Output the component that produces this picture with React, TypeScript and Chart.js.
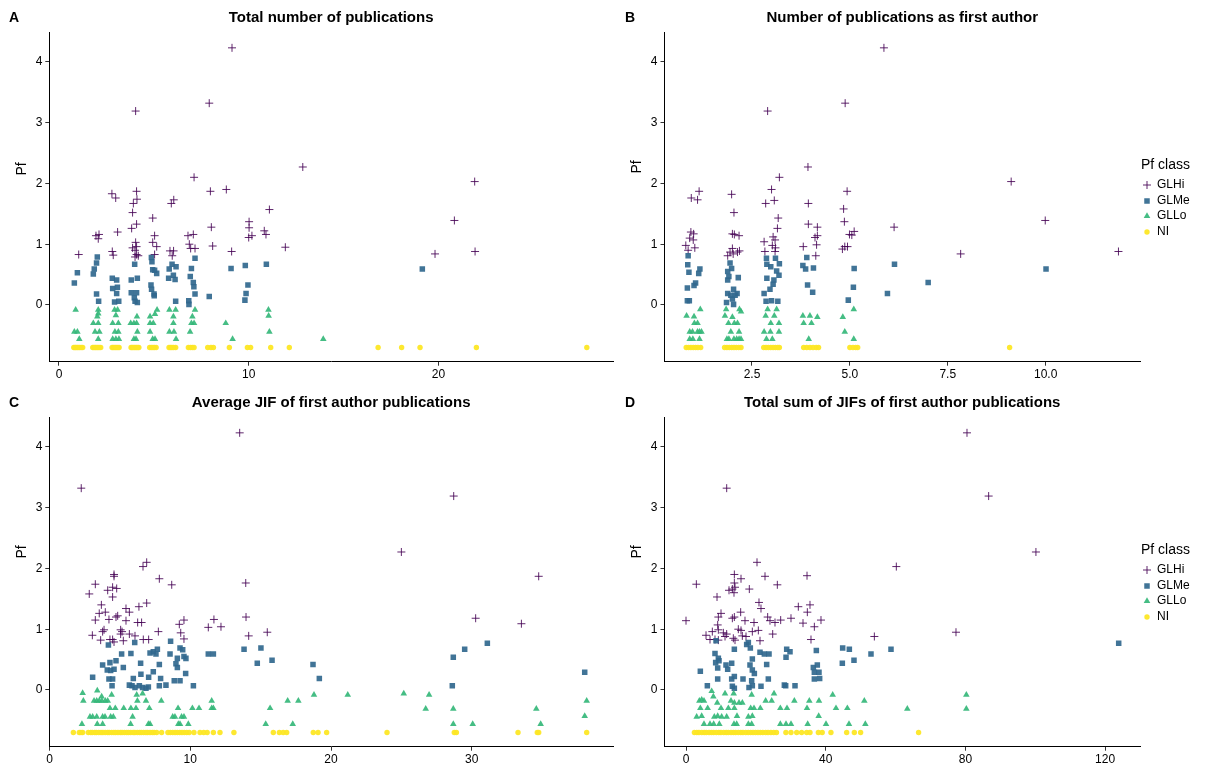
import React, { useEffect, useRef } from 'react';
import { Chart, registerables } from 'chart.js';
Chart.register(...registerables);

const FONT = "'Liberation Sans', Arial, Helvetica, sans-serif";

const PF_TICKS = [0, 1, 2, 3, 4];
const PF_MIN = -0.933;
const PF_MAX = 4.479;
const NI_PF = -0.7;
const CLASSES = ['GLHi', 'GLMe', 'GLLo', 'NI'];
const CLASS_COLORS = ['rgba(68,1,84,0.85)', 'rgba(49,104,142,0.92)', 'rgba(53,183,121,0.92)', 'rgba(253,231,37,0.95)'];

// ---------- Panel A: Total number of publications ----------
const A_X_TICKS = [0, 10, 20];
const A_GLHi: [number, number][] = [
  [9.12, 4.23], [4.04, 3.19], [7.92, 3.32], [7.12, 2.1], [2.79, 1.83], [2.99, 1.76], [4.09, 1.87], [4.11, 1.74], [3.92, 1.67],
  [5.92, 1.67], [6.05, 1.73], [7.98, 1.87], [8.82, 1.9], [12.85, 2.27], [21.91, 2.03], [20.84, 1.39], [19.82, 0.84], [21.93, 0.88],
  [3.88, 1.52], [4.94, 1.43], [11.09, 1.57], [4.09, 1.33], [3.83, 1.26], [1.95, 1.14], [2.11, 1.16], [2.07, 1.09], [3.09, 1.2],
  [5.04, 1.14], [4.94, 1.03], [5.15, 0.96], [6.8, 1.14], [7.08, 1.16], [8.03, 1.28], [8.1, 0.97], [10.02, 1.37], [10.02, 1.27],
  [10.0, 1.11], [10.17, 1.14], [10.82, 1.22], [10.91, 1.16], [6.87, 1.0], [6.94, 0.93], [7.17, 0.93], [4.04, 1.03], [3.88, 0.94],
  [4.09, 0.96], [4.01, 0.9], [4.09, 0.83], [4.18, 0.81], [4.01, 0.79], [2.81, 0.88], [2.86, 0.82], [5.85, 0.89], [6.04, 0.89],
  [5.97, 0.81], [5.04, 0.83], [1.04, 0.83], [9.1, 0.88], [11.93, 0.95],
];
const A_GLMe: [number, number][] = [
  [2.02, 0.79], [1.98, 0.69], [1.86, 0.59], [1.81, 0.51], [0.97, 0.53], [0.81, 0.36], [1.98, 0.18], [2.09, 0.06], [2.81, 0.44],
  [3.04, 0.41], [2.83, 0.27], [3.08, 0.29], [3.04, 0.19], [2.93, 0.05], [3.15, 0.06], [3.99, 0.67], [3.81, 0.41], [4.13, 0.44],
  [3.81, 0.2], [4.09, 0.2], [3.97, 0.12], [4.01, 0.06], [4.13, 0.04], [4.87, 0.78], [4.9, 0.71], [4.94, 0.58], [5.04, 0.57],
  [5.15, 0.52], [4.85, 0.33], [4.88, 0.26], [5.01, 0.18], [5.02, 0.15], [5.96, 0.67], [6.17, 0.63], [5.81, 0.59], [6.03, 0.49],
  [5.78, 0.44], [6.12, 0.42], [6.15, 0.06], [7.17, 0.77], [6.98, 0.6], [6.92, 0.47], [7.08, 0.37], [7.11, 0.3], [7.17, 0.18],
  [6.84, 0.07], [6.85, 0.01], [7.92, 0.14], [9.07, 0.6], [9.82, 0.65], [9.96, 0.33], [9.86, 0.19], [9.8, 0.08], [10.93, 0.67],
  [19.15, 0.59],
];
const A_GLLo: [number, number][] = [
  [0.88, -0.08], [2.07, -0.08], [2.93, -0.08], [3.09, -0.08], [5.17, -0.08], [5.82, -0.08], [6.15, -0.08], [7.17, -0.08], [11.04, -0.08],
  [2.07, -0.14], [2.02, -0.19], [3.0, -0.17], [4.11, -0.19], [4.8, -0.19], [5.06, -0.15], [6.03, -0.19], [7.03, -0.19], [11.05, -0.18],
  [1.81, -0.3], [2.07, -0.3], [2.83, -0.3], [3.13, -0.3], [3.78, -0.3], [3.95, -0.3], [4.09, -0.3], [4.8, -0.3], [4.97, -0.3],
  [6.03, -0.3], [6.98, -0.3], [7.12, -0.3], [8.79, -0.3],
  [0.81, -0.44], [0.97, -0.44], [1.9, -0.44], [2.13, -0.44], [2.95, -0.44], [3.13, -0.44], [4.13, -0.44], [4.8, -0.44], [5.82, -0.44],
  [6.06, -0.44], [6.91, -0.44], [11.09, -0.44],
  [1.07, -0.56], [2.07, -0.56], [2.83, -0.56], [3.0, -0.56], [3.16, -0.56], [3.95, -0.56], [4.06, -0.56], [4.94, -0.56], [5.06, -0.56],
  [6.17, -0.56], [9.15, -0.56], [13.93, -0.56],
];
const A_NI_X = [
  0.78, 0.84, 0.9, 0.97, 1.03, 1.1, 1.17, 1.25, 1.78, 1.85, 1.92, 1.98, 2.05, 2.12, 2.2, 2.8, 2.87, 2.95, 3.02, 3.1, 3.17,
  3.8, 3.86, 3.93, 4.0, 4.07, 4.14, 4.21, 4.78, 4.86, 4.95, 5.03, 5.12, 5.8, 5.88, 5.96, 6.05, 6.15, 6.82, 6.92, 7.02, 7.12,
  7.84, 8.01, 8.14, 8.98, 9.93, 10.1, 11.16, 12.14, 16.82, 18.06, 19.03, 22.0, 27.82,
];

// ---------- Panel B: Number of publications as first author ----------
const B_X_TICKS = [2.5, 5, 7.5, 10];
const B_GLHi: [number, number][] = [
  [2.9, 3.19], [4.88, 3.32], [3.93, 2.27], [3.2, 2.1], [0.95, 1.76], [1.11, 1.73], [1.15, 1.87], [1.98, 1.82], [3.0, 1.9],
  [3.07, 1.72], [2.85, 1.67], [3.94, 1.67], [4.93, 1.87], [5.87, 4.23], [9.12, 2.03], [9.99, 1.39], [6.13, 1.28], [7.83, 0.84],
  [11.86, 0.88], [2.04, 1.52], [4.84, 1.58], [3.17, 1.43], [4.86, 1.37], [3.94, 1.33], [4.17, 1.28], [3.15, 1.26], [0.94, 1.2],
  [1.01, 1.17], [0.91, 1.1], [1.0, 1.07], [0.81, 0.98], [0.87, 0.9], [1.04, 0.94], [2.0, 1.17], [2.05, 1.16], [2.17, 1.14],
  [2.0, 0.93], [1.94, 0.87], [1.88, 0.81], [2.18, 0.89], [2.13, 0.87], [2.02, 0.84], [2.81, 1.04], [3.04, 1.12], [3.09, 1.07],
  [3.02, 0.98], [3.1, 0.94], [2.83, 0.88], [3.09, 0.88], [3.81, 0.96], [4.11, 1.11], [4.17, 1.14], [4.15, 0.99], [4.13, 0.81],
  [4.87, 0.96], [4.94, 0.96], [4.81, 0.92], [4.99, 1.16], [5.11, 1.21], [5.05, 1.15],
];
const B_GLMe: [number, number][] = [
  [0.87, 0.81], [0.86, 0.66], [0.89, 0.54], [1.14, 0.52], [1.17, 0.59], [1.06, 0.36], [1.02, 0.32], [0.85, 0.28], [0.85, 0.07],
  [0.9, 0.07], [1.94, 0.69], [1.98, 0.6], [1.88, 0.55], [1.91, 0.47], [1.88, 0.41], [2.15, 0.45], [2.03, 0.26], [1.88, 0.19],
  [1.96, 0.16], [2.07, 0.16], [2.12, 0.19], [2.0, 0.1], [1.85, 0.04], [2.03, 0.01], [2.87, 0.77], [2.88, 0.67], [2.98, 0.63],
  [3.1, 0.77], [3.2, 0.68], [3.13, 0.56], [3.19, 0.49], [3.06, 0.41], [2.88, 0.44], [3.04, 0.34], [2.96, 0.26], [2.81, 0.19],
  [2.86, 0.06], [3.0, 0.07], [3.16, 0.06], [3.9, 0.78], [3.8, 0.65], [3.87, 0.59], [4.07, 0.61], [3.92, 0.33], [4.05, 0.21],
  [5.11, 0.6], [5.09, 0.29], [4.96, 0.08], [6.14, 0.67], [7.0, 0.37], [5.96, 0.19], [10.01, 0.59],
];
const B_GLLo: [number, number][] = [
  [1.18, -0.07], [1.84, -0.07], [2.18, -0.07], [2.9, -0.07], [3.13, -0.07], [5.1, -0.07],
  [0.83, -0.18], [1.02, -0.19], [1.81, -0.18], [2.0, -0.2], [2.22, -0.11], [2.85, -0.18], [3.07, -0.18], [3.8, -0.18], [3.98, -0.18],
  [4.17, -0.2], [4.82, -0.2],
  [1.03, -0.3], [1.11, -0.3], [1.9, -0.3], [2.05, -0.3], [2.13, -0.3], [2.98, -0.3], [3.19, -0.3], [3.82, -0.3], [4.02, -0.3],
  [0.91, -0.44], [0.98, -0.44], [1.11, -0.44], [1.16, -0.44], [1.21, -0.44], [1.96, -0.44], [2.17, -0.44], [2.81, -0.44],
  [2.97, -0.44], [3.19, -0.44], [4.87, -0.44],
  [0.91, -0.56], [0.99, -0.56], [1.16, -0.56], [1.86, -0.56], [1.91, -0.56], [2.04, -0.56], [2.11, -0.56], [2.17, -0.56],
  [2.22, -0.56], [2.87, -0.56], [3.02, -0.56], [3.95, -0.56], [5.1, -0.56],
];
const B_NI_X = [
  0.82, 0.88, 0.94, 1.0, 1.06, 1.12, 1.19, 1.8, 1.86, 1.92, 1.98, 2.04, 2.1, 2.16, 2.22, 2.8, 2.86, 2.92, 2.98, 3.04, 3.1, 3.16,
  3.2, 3.82, 3.9, 3.98, 4.06, 4.14, 4.2, 5.0, 5.08, 5.15, 5.2, 9.08,
];

// ---------- Panel C: Average JIF of first author publications ----------
const C_X_TICKS = [0, 10, 20, 30];
const C_GLHi: [number, number][] = [
  [13.51, 4.23], [2.25, 3.32], [6.9, 2.1], [6.64, 2.03], [4.58, 1.9], [4.58, 1.87], [7.8, 1.83], [3.25, 1.74], [8.68, 1.73],
  [13.94, 1.76], [28.72, 3.19], [25.0, 2.27], [34.76, 1.87], [30.28, 1.18], [33.53, 1.09],
  [2.82, 1.58], [4.13, 1.64], [4.48, 1.69], [4.77, 1.67], [4.48, 1.53], [3.68, 1.4], [3.53, 1.26], [3.96, 1.28], [3.25, 1.15],
  [4.22, 1.16], [4.72, 1.2], [4.84, 1.22], [5.43, 1.34], [5.67, 1.28], [6.35, 1.37], [6.9, 1.43], [5.43, 1.14], [6.26, 1.11],
  [6.54, 1.11], [3.04, 0.9], [3.63, 0.82], [3.77, 0.96], [3.87, 0.99], [4.29, 0.83], [4.48, 0.83], [4.58, 0.79], [5.05, 0.99],
  [5.15, 0.96], [5.05, 0.92], [5.24, 0.81], [5.67, 0.92], [6.07, 0.89], [6.66, 0.83], [7.04, 0.83], [7.73, 0.96], [9.22, 1.08],
  [9.55, 1.15], [9.32, 0.94], [9.55, 0.84], [11.28, 1.03], [11.68, 1.16], [12.18, 1.04], [13.96, 1.2], [14.15, 0.89], [15.47, 0.95],
];
const C_GLMe: [number, number][] = [
  [4.18, 0.74], [6.05, 0.78], [8.6, 0.8], [5.12, 0.59], [5.78, 0.6], [3.77, 0.41], [4.29, 0.45], [4.72, 0.48], [3.06, 0.21],
  [4.1, 0.33], [4.34, 0.32], [4.58, 0.34], [5.24, 0.37], [4.22, 0.18], [4.48, 0.18], [4.44, 0.07], [6.47, 0.44], [6.49, 0.26],
  [5.95, 0.19], [5.67, 0.08], [5.86, 0.07], [6.07, 0.04], [6.38, 0.07], [6.61, 0.04], [6.85, 0.03], [7.02, 0.05], [7.14, 0.61],
  [7.37, 0.63], [7.56, 0.59], [7.66, 0.67], [7.37, 0.3], [7.04, 0.21], [7.8, 0.42], [7.89, 0.19], [7.8, 0.07], [8.27, 0.08],
  [8.56, 0.59], [9.08, 0.52], [9.27, 0.69], [9.46, 0.66], [9.55, 0.55], [9.69, 0.52], [8.98, 0.43], [9.08, 0.37], [8.86, 0.15],
  [9.27, 0.15], [9.67, 0.27], [10.22, 0.07], [11.28, 0.59], [11.64, 0.59], [13.82, 0.67], [14.76, 0.44], [15.02, 0.69], [15.81, 0.49],
  [31.11, 0.77], [29.5, 0.67], [28.69, 0.54], [18.72, 0.42], [19.17, 0.19], [28.62, 0.07], [38.03, 0.29],
];
const C_GLLo: [number, number][] = [
  [2.35, -0.05], [3.39, -0.01], [4.41, -0.08], [6.19, -0.08], [6.61, -0.06],
  [2.4, -0.18], [3.16, -0.18], [3.35, -0.18], [3.53, -0.18], [3.72, -0.18], [3.96, -0.18], [4.13, -0.18], [6.24, -0.18], [6.85, -0.18],
  [7.94, -0.18], [11.52, -0.18], [16.92, -0.18], [17.68, -0.18], [3.7, -0.11],
  [4.29, -0.3], [4.67, -0.3], [5.27, -0.3], [5.78, -0.3], [6.14, -0.3], [7.09, -0.3], [9.13, -0.3], [10.15, -0.3], [10.62, -0.3],
  [11.52, -0.3], [11.64, -0.3], [15.67, -0.3],
  [2.87, -0.44], [3.06, -0.44], [3.35, -0.44], [3.77, -0.44], [3.94, -0.44], [4.34, -0.44], [4.53, -0.44], [5.9, -0.44], [8.75, -0.44],
  [8.91, -0.44], [9.38, -0.44], [9.55, -0.44],
  [2.3, -0.56], [3.39, -0.56], [3.77, -0.56], [5.76, -0.56], [7.02, -0.56], [7.14, -0.56], [9.15, -0.56], [9.27, -0.56], [9.86, -0.56],
  [15.36, -0.56], [17.28, -0.56],
  [18.79, -0.08], [21.19, -0.08], [25.17, -0.06], [26.97, -0.08], [26.73, -0.31], [28.69, -0.31], [34.59, -0.31], [38.17, -0.18],
  [38.03, -0.43], [28.69, -0.56], [30.07, -0.56], [34.9, -0.56],
];
const C_NI_X = [
  1.69, 2.11, 2.23, 2.35, 2.75, 2.92, 3.04, 3.21, 3.33, 3.5, 3.66, 3.79, 3.95, 4.12, 4.24, 4.41, 4.57, 4.7, 4.86, 5.03, 5.15, 5.32,
  5.48, 5.61, 5.77, 5.94, 6.06, 6.23, 6.39, 6.52, 6.68, 6.85, 6.97, 7.14, 7.3, 7.43, 7.61, 7.96, 8.41, 8.58, 8.75, 8.92, 9.08,
  9.25, 9.41, 9.58, 9.75, 9.92, 10.26, 10.69, 10.95, 11.2, 11.64, 12.11, 13.1, 15.9, 16.33, 16.6, 16.85, 18.74, 19.08, 19.69,
  23.98, 28.76, 28.91, 33.29, 34.66, 34.76, 38.17,
];

// ---------- Panel D: Total sum of JIFs of first author publications ----------
const D_X_TICKS = [0, 40, 80, 120];
const D_GLHi: [number, number][] = [
  [11.65, 3.32], [20.33, 2.1], [60.22, 2.03], [13.84, 1.9], [22.62, 1.87], [34.65, 1.88], [15.75, 1.83], [2.96, 1.74], [13.84, 1.76],
  [26.15, 1.73], [80.46, 4.23], [86.66, 3.19], [100.2, 2.27], [77.31, 0.95],
  [14.03, 1.69], [13.74, 1.6], [18.13, 1.66], [12.31, 1.64], [13.27, 1.66], [8.88, 1.53], [20.9, 1.44], [21.47, 1.34], [32.16, 1.37],
  [35.5, 1.4], [34.74, 1.28], [15.65, 1.28], [10.02, 1.26], [9.26, 1.2], [13.27, 1.18], [13.84, 1.2], [16.89, 1.14], [19.47, 1.11],
  [23.38, 1.2], [24.05, 1.14], [25.48, 1.11], [27.11, 1.15], [30.06, 1.18], [33.5, 1.1], [38.65, 1.15], [36.75, 1.04], [0, 1.14],
  [9.07, 1.07], [9.26, 0.99], [7.54, 0.96], [5.73, 0.9], [6.87, 0.83], [8.3, 0.83], [10.69, 0.94], [11.64, 0.92], [11.17, 0.88],
  [9.26, 0.82], [13.55, 0.85], [14.03, 0.82], [14.98, 1.0], [15.75, 0.98], [16.13, 0.89], [17.18, 0.88], [18.99, 0.96], [20.71, 0.98],
  [21.19, 0.81], [24.82, 0.92], [35.79, 0.83], [53.93, 0.88],
];
const D_GLMe: [number, number][] = [
  [8.59, 0.81], [8.3, 0.6], [9.26, 0.52], [8.49, 0.45], [9.45, 0.48], [9.07, 0.36], [4.1, 0.31], [11.45, 0.41], [11.93, 0.34],
  [13.08, 0.44], [13.84, 0.67], [9.07, 0.18], [6.11, 0.07], [13.08, 0.18], [13.84, 0.22], [13.27, 0.06], [13.84, 0.03], [17.37, 0.75],
  [17.85, 0.78], [18.42, 0.69], [18.99, 0.51], [18.32, 0.41], [18.99, 0.33], [19.57, 0.27], [16.32, 0.18], [18.8, 0.15], [18.04, 0.04],
  [18.99, 0.07], [21.19, 0.62], [22.43, 0.59], [23.77, 0.59], [23.1, 0.42], [23.57, 0.18], [21.47, 0.06], [28.16, 0.08], [28.54, 0.07],
  [31.21, 0.07], [28.83, 0.67], [29.78, 0.63], [28.64, 0.54], [36.46, 0.37], [37.6, 0.41], [36.75, 0.29], [38.08, 0.29], [36.75, 0.18],
  [38.27, 0.19], [37.32, 0.65], [44.86, 0.69], [46.77, 0.67], [44.76, 0.44], [48.1, 0.49], [52.97, 0.59], [58.7, 0.67], [123.9, 0.77],
];
const D_GLLo: [number, number][] = [
  [7.35, -0.02], [11.17, -0.06], [13.65, -0.06], [18.8, -0.08], [25.2, -0.06], [42.0, -0.08], [80.27, -0.08],
  [3.82, -0.18], [4.49, -0.16], [5.15, -0.18], [7.83, -0.11], [8.94, -0.21], [12.88, -0.18], [13.84, -0.21], [15.18, -0.21],
  [16.13, -0.21], [22.81, -0.18], [24.53, -0.18], [31.02, -0.18], [35.31, -0.18], [38.08, -0.18], [51.06, -0.18],
  [4.1, -0.3], [6.2, -0.3], [10.02, -0.3], [12.12, -0.3], [13.84, -0.3], [18.52, -0.3], [19.47, -0.3], [21.28, -0.3], [27.01, -0.3],
  [28.92, -0.3], [34.65, -0.3], [42.95, -0.3], [46.2, -0.3], [63.37, -0.31], [80.27, -0.31],
  [3.05, -0.44], [4.49, -0.43], [8.11, -0.44], [9.07, -0.43], [10.21, -0.44], [11.64, -0.44], [14.6, -0.43], [17.85, -0.44],
  [18.99, -0.43], [37.99, -0.43],
  [5.15, -0.56], [6.87, -0.56], [7.92, -0.56], [9.54, -0.56], [13.74, -0.56], [14.51, -0.56], [17.85, -0.56], [18.8, -0.56],
  [27.01, -0.56], [28.63, -0.56], [30.06, -0.56], [34.84, -0.56], [40.09, -0.56], [46.67, -0.56], [51.35, -0.56],
];
const D_NI_X = [
  2.4, 3.1, 3.7, 4.5, 5.2, 5.8, 6.6, 7.3, 7.9, 8.7, 9.4, 10.0, 10.8, 11.5, 12.1, 12.9, 13.6, 14.2, 15.0, 15.7, 16.3, 17.1, 17.8,
  18.5, 19.2, 19.9, 20.6, 21.3, 22.0, 22.8, 23.5, 24.3, 25.1, 25.9, 28.6, 30.06, 31.7, 33.1, 34.55, 35.5, 37.9, 39.0, 41.5, 46.0,
  48.2, 50.0, 66.6,
];

type Pt = [number, number];
interface PanelCfg {
  letter: string;
  title: string;
  left: number; top: number; w: number; h: number;
  area: { l: number; t: number; r: number; b: number };
  xMin: number; xMax: number; xTicks: number[]; decimals: number;
  hi: Pt[]; me: Pt[]; lo: Pt[]; ni: number[];
  legend: boolean;
  letterX: number;
  yTitleX: number; yTitleY: number;
}

const PANELS: PanelCfg[] = [
  {
    letter: 'A', title: 'Total number of publications', left: 0, top: 0, w: 620, h: 385,
    area: { l: 49.3, t: 32.7, r: 613, b: 361.7 }, xMin: -0.51, xMax: 29.2, xTicks: A_X_TICKS, decimals: 0,
    hi: A_GLHi, me: A_GLMe, lo: A_GLLo, ni: A_NI_X, legend: false, letterX: 14, yTitleX: 22, yTitleY: 169,
  },
  {
    letter: 'B', title: 'Number of publications as first author', left: 620, top: 0, w: 608, h: 385,
    area: { l: 44.5, t: 32.7, r: 520, b: 361.7 }, xMin: 0.266, xMax: 12.41, xTicks: B_X_TICKS, decimals: 1,
    hi: B_GLHi, me: B_GLMe, lo: B_GLLo, ni: B_NI_X, legend: true, letterX: 10, yTitleX: 17, yTitleY: 167,
  },
  {
    letter: 'C', title: 'Average JIF of first author publications', left: 0, top: 385, w: 620, h: 379,
    area: { l: 49.3, t: 32.7, r: 613, b: 361.7 }, xMin: -0.02, xMax: 40.04, xTicks: C_X_TICKS, decimals: 0,
    hi: C_GLHi, me: C_GLMe, lo: C_GLLo, ni: C_NI_X, legend: false, letterX: 14, yTitleX: 22, yTitleY: 167,
  },
  {
    letter: 'D', title: 'Total sum of JIFs of first author publications', left: 620, top: 385, w: 608, h: 379,
    area: { l: 44.5, t: 32.7, r: 520, b: 361.7 }, xMin: -6.16, xMax: 130.0, xTicks: D_X_TICKS, decimals: 0,
    hi: D_GLHi, me: D_GLMe, lo: D_GLLo, ni: D_NI_X, legend: true, letterX: 10, yTitleX: 17, yTitleY: 167,
  },
];

function drawSymbol(ctx: CanvasRenderingContext2D, idx: number, x: number, y: number) {
  ctx.save();
  ctx.fillStyle = CLASS_COLORS[idx];
  ctx.strokeStyle = CLASS_COLORS[idx];
  ctx.lineWidth = 1;
  ctx.beginPath();
  if (idx === 0) {
    ctx.moveTo(x - 4, y); ctx.lineTo(x + 4, y);
    ctx.moveTo(x, y - 4); ctx.lineTo(x, y + 4);
    ctx.stroke();
  } else if (idx === 1) {
    ctx.rect(x - 2.75, y - 2.75, 5.5, 5.5); ctx.fill();
  } else if (idx === 2) {
    ctx.moveTo(x, y - 3.8); ctx.lineTo(x + 3.3, y + 1.9); ctx.lineTo(x - 3.3, y + 1.9); ctx.closePath(); ctx.fill();
  } else {
    ctx.arc(x, y, 2.7, 0, Math.PI * 2); ctx.fill();
  }
  ctx.restore();
}

function PanelChart({ cfg }: { cfg: PanelCfg }) {
  const ref = useRef<HTMLCanvasElement | null>(null);
  useEffect(() => {
    if (!ref.current) return;
    const { area, w, h } = cfg;
    const decor = {
      id: 'decor' + cfg.letter,
      afterDraw(chart: any) {
        const ctx: CanvasRenderingContext2D = chart.ctx;
        ctx.save();
        ctx.fillStyle = '#000';
        ctx.textBaseline = 'middle';
        ctx.font = `bold 14px ${FONT}`;
        ctx.textAlign = 'center';
        ctx.fillText(cfg.letter, cfg.letterX, 18);
        ctx.font = `bold 15px ${FONT}`;
        ctx.fillText(cfg.title, (area.l + area.r) / 2, 18);
        ctx.font = `14px ${FONT}`;
        ctx.save();
        ctx.translate(cfg.yTitleX, cfg.yTitleY);
        ctx.rotate(-Math.PI / 2);
        ctx.fillText('Pf', 0, 0);
        ctx.restore();
        if (cfg.legend) {
          const lx = 521;
          ctx.textAlign = 'left';
          ctx.font = `14px ${FONT}`;
          ctx.fillText('Pf class', lx, 165);
          ctx.font = `12px ${FONT}`;
          const ys = [185, 201, 216, 232];
          CLASSES.forEach((c, i) => {
            drawSymbol(ctx, i, lx + 6, ys[i]);
            ctx.fillStyle = '#000';
            ctx.fillText(c, lx + 16, ys[i]);
          });
        }
        ctx.restore();
      },
    };
    const toPts = (arr: Pt[]) => arr.map(([x, y]) => ({ x, y }));
    const chart = new Chart(ref.current, {
      type: 'scatter',
      data: {
        datasets: [
          { label: 'NI', data: cfg.ni.map((x) => ({ x, y: NI_PF })), pointStyle: 'circle', pointRadius: 2.7, backgroundColor: CLASS_COLORS[3], borderWidth: 0 },
          { label: 'GLLo', data: toPts(cfg.lo), pointStyle: 'triangle', pointRadius: 3.8, backgroundColor: CLASS_COLORS[2], borderWidth: 0 },
          { label: 'GLMe', data: toPts(cfg.me), pointStyle: 'rect', pointRadius: 3.9, backgroundColor: CLASS_COLORS[1], borderWidth: 0 },
          { label: 'GLHi', data: toPts(cfg.hi), pointStyle: 'cross', pointRadius: 4, backgroundColor: CLASS_COLORS[0], borderColor: CLASS_COLORS[0], borderWidth: 1 },
        ] as any,
      },
      options: {
        responsive: false,
        animation: false,
        devicePixelRatio: 1,
        events: [],
        layout: { padding: { left: 0, top: area.t, right: w - area.r, bottom: 0 } },
        plugins: { legend: { display: false }, title: { display: false }, tooltip: { enabled: false } },
        scales: {
          x: {
            type: 'linear', min: cfg.xMin, max: cfg.xMax,
            afterBuildTicks: (s: any) => { s.ticks = cfg.xTicks.map((v) => ({ value: v })); },
            afterFit: (s: any) => { s.height = h - area.b; },
            grid: { display: true, drawOnChartArea: false, drawTicks: true, tickLength: 4, tickColor: '#333', lineWidth: 1 },
            border: { display: true, color: '#000', width: 1 },
            ticks: { font: { family: FONT, size: 12 }, color: '#000', padding: 2, maxRotation: 0, callback: (v: any) => Number(v).toFixed(cfg.decimals) },
          },
          y: {
            type: 'linear', min: PF_MIN, max: PF_MAX,
            afterBuildTicks: (s: any) => { s.ticks = PF_TICKS.map((v) => ({ value: v })); },
            afterFit: (s: any) => { s.width = area.l; },
            grid: { display: true, drawOnChartArea: false, drawTicks: true, tickLength: 4, tickColor: '#333', lineWidth: 1 },
            border: { display: true, color: '#000', width: 1 },
            ticks: { font: { family: FONT, size: 12 }, color: '#000', padding: 3, callback: (v: any) => String(v) },
          },
        },
      } as any,
      plugins: [decor],
    });
    return () => chart.destroy();
  }, [cfg]);
  return (
    <canvas
      ref={ref}
      width={cfg.w}
      height={cfg.h}
      style={{ position: 'absolute', left: cfg.left, top: cfg.top, width: cfg.w, height: cfg.h }}
    />
  );
}

export default function App() {
  return (
    <div style={{ position: 'fixed', left: 0, top: 0, width: 1228, height: 764, background: '#fff', overflow: 'hidden' }}>
      {PANELS.map((p) => (
        <PanelChart key={p.letter} cfg={p} />
      ))}
    </div>
  );
}
